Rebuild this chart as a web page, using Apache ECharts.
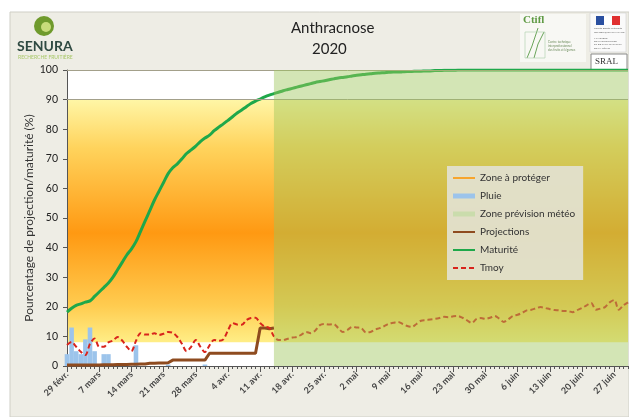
<!DOCTYPE html>
<html>
<head>
<meta charset="utf-8">
<script src="https://cdn.jsdelivr.net/npm/echarts/dist/echarts.min.js"></script>
<style>
html,body{margin:0;padding:0;background:#fff;}
#main{width:629px;height:417px;}
</style>
</head>
<body>
<div id="main"></div>
<script>
// jours du 29 févr. au 30 juin 2020
var mois = [['févr.', 29, 29], ['mars', 1, 31], ['avr.', 1, 30], ['mai', 1, 31], ['juin', 1, 30]];
var jours = [];
mois.forEach(function (m) {
    for (var d = m[1]; d <= m[2]; d++) jours.push(d + ' ' + m[0]);
});
var debutPrevision = '14 avr.';

// pluie (mm), seulement les premiers jours
var pluie = [4, 13, 5, 4, 9, 13, 5, 0, 4, 4, 0, 0, 0, 0, 0, 7, 0, 0, 0, 0, 0, 0, 0.5, 0, 0, 0, 0, 0, 0, 0, 0.5];

// projections (%) jusqu'au début de la prévision
var projections = [0.3, 0.3, 0.3, 0.3, 0.3, 0.3, 0.3, 0.3, 0.4, 0.4,
    0.4, 0.5, 0.5, 0.5, 0.6, 0.6, 0.7, 0.7, 0.9, 0.9,
    1, 1, 1.1, 2, 2, 2, 2, 2, 2, 2,
    2, 4.3, 4.3, 4.3, 4.3, 4.3, 4.3, 4.3, 4.3, 4.3,
    4.3, 4.3, 12.8, 12.8, 12.6, 12.8];

// maturité (%)
var maturite = [18.2, 19.5, 20.5, 21, 21.6, 22, 23.5, 25, 26.5, 28,
    30, 32.5, 35, 37.5, 39.5, 42, 45.5, 49, 52.5, 56,
    59, 62, 65, 67, 68.3, 70, 71.8, 73, 74.3, 75.8,
    77, 78, 79.5, 80.7, 81.8, 83, 84.2, 85.5, 86.5, 87.6,
    88.7, 89.5, 90.2, 90.9, 91.5, 92, 92.5, 93, 93.4, 93.8,
    94.2, 94.6, 95, 95.4, 95.8, 96.1, 96.4, 96.7, 97, 97.3,
    97.5, 97.7, 98, 98.2, 98.4, 98.6, 98.7, 98.9, 99, 99.1,
    99.2, 99.3, 99.3, 99.4, 99.5, 99.5, 99.6, 99.6, 99.7, 99.7,
    99.8, 99.8, 99.9, 99.9, 99.9, 100, 100, 100, 100, 100,
    100, 100, 100, 100, 100, 100, 100, 100, 100, 100,
    100, 100, 100, 100, 100, 100, 100, 100, 100, 100,
    100, 100, 100, 100, 100, 100, 100, 100, 100, 100,
    100, 100, 100];

// température moyenne (°C)
var tmoy = [7.1, 8.1, 6.5, 4.8, 3.7, 7.5, 9.3, 6.5, 6.5, 8,
    8.6, 9.8, 8.6, 6.5, 5, 8.5, 11.1, 10.6, 10.6, 11.1,
    10.5, 10.9, 11.5, 11.2, 9.8, 7.5, 5, 6.5, 8.8, 6.5,
    4.7, 7, 8.8, 8.5, 9, 12, 14.5, 14, 13.9, 15.5,
    16.2, 16.3, 14.5, 13.3, 12.9, 10, 8.8, 8.8, 9.2, 9.6,
    9.8, 10.6, 11.5, 11.1, 12, 13.8, 14.2, 14, 14.2, 12.8,
    11.5, 12.2, 13.2, 13, 12.8, 11.4, 11.5, 12.3, 12.8, 13.5,
    14.3, 14.6, 14.9, 14.2, 13.5, 13.2, 14.2, 15.3, 15.5, 15.7,
    15.9, 16.2, 16.6, 16.5, 16.8, 16.9, 16.3, 15.4, 14.5, 15.8,
    16.2, 15.9, 16.3, 16.9, 16, 14.9, 15.8, 16.9, 17.3, 18,
    18.8, 19, 19.5, 19.9, 19.6, 19.2, 18.9, 18.8, 18.6, 18.5,
    18.2, 18.9, 19.6, 20.5, 21.3, 19, 19.4, 19.9, 21.5, 22.3,
    19, 20.5, 21.5];

var police = 'Lato, "Open Sans", sans-serif';
var myChart = echarts.init(document.getElementById('main'));

var sansSymbole = { opacity: 0 }; // cache le rond des lignes dans la légende

var option = {
    backgroundColor: '#fff',
    textStyle: { fontFamily: police },
    grid: {
        left: 67, right: 1, top: 70, bottom: 51,
        show: true, backgroundColor: '#fff', borderWidth: 0
    },
    graphic: [
        { type: 'rect', z: -10, shape: { x: 10, y: 12, width: 619, height: 405 },
          style: { fill: '#eeede5', stroke: '#cfcfc6', lineWidth: 1 } },
        // logo SENURA
        { type: 'circle', shape: { cx: 44, cy: 26, r: 10 }, style: { fill: '#6f9a2c' } },
        { type: 'circle', shape: { cx: 46, cy: 27, r: 5 }, style: { fill: '#c8dc7a' } },
        { type: 'text', left: 17, top: 39, style: { text: 'SENURA', fill: '#2f4a42', font: 'bold 14px ' + police } },
        { type: 'text', left: 18, top: 55, style: { text: 'RECHERCHE FRUITIÈRE', fill: '#a8c86a', font: '5px ' + police } },
        // titre
        { type: 'text', left: 291, top: 21, style: { text: 'Anthracnose', fill: '#222', font: '15px ' + police } },
        { type: 'text', left: 312, top: 42, style: { text: '2020', fill: '#222', font: '15px ' + police } },
        // logo Ctifl
        { type: 'rect', shape: { x: 520, y: 14, width: 66, height: 48 }, style: { fill: '#f8f8f4' } },
        { type: 'text', left: 523, top: 15, style: { text: 'Ctifl', fill: '#5f9a44', font: 'bold 11px "Liberation Serif", serif' } },
        { type: 'polyline', shape: { points: [[527, 58], [532, 46], [536, 34], [538, 28]] }, style: { stroke: '#6aa55a', fill: null, lineWidth: 1 } },
        { type: 'polyline', shape: { points: [[534, 58], [538, 44], [544, 32]] }, style: { stroke: '#6aa55a', fill: null, lineWidth: 1 } },
        { type: 'rect', shape: { x: 525, y: 32, width: 20, height: 26 }, style: { fill: null, stroke: '#a8cfa8', lineWidth: 0.6 } },
        { type: 'text', left: 548, top: 40, style: { text: 'Centre technique\ninterprofessionnel\ndes fruits et légumes', fill: '#6a8a5a', font: '3px ' + police, lineHeight: 4 } },
        // logo ministère
        { type: 'rect', shape: { x: 590, y: 13, width: 36, height: 39 }, style: { fill: '#fafafa', stroke: '#d0d0d0', lineWidth: 0.6 } },
        { type: 'rect', shape: { x: 596, y: 16, width: 8, height: 9 }, style: { fill: '#2a4fa0' } },
        { type: 'rect', shape: { x: 604, y: 16, width: 8, height: 9 }, style: { fill: '#ffffff' } },
        { type: 'rect', shape: { x: 612, y: 16, width: 8, height: 9 }, style: { fill: '#e03030' } },
        { type: 'text', left: 594, top: 27, style: { text: 'Liberté Égalité Fraternité\nRÉPUBLIQUE FRANÇAISE\n\nMINISTÈRE\nDE L\'AGRICULTURE\nET DE L\'ALIMENTATION\nDE LA PÊCHE', fill: '#666', font: '2.6px ' + police, lineHeight: 3.2 } },
        { type: 'rect', shape: { x: 591, y: 54, width: 36, height: 16 }, style: { fill: '#fff', stroke: '#8a8a8a', lineWidth: 1 } },
        { type: 'text', left: 595, top: 57, style: { text: 'SRAL', fill: '#333', font: '9px "Liberation Serif", serif' } }
    ],
    legend: {
        orient: 'vertical',
        left: 447, top: 166,
        z: 10,
        padding: [6, 8, 6, 5],
        backgroundColor: 'rgba(226,224,206,0.95)',
        itemWidth: 22, itemHeight: 5, itemGap: 6,
        selectedMode: false,
        textStyle: { fontSize: 10, color: '#333', lineHeight: 12 },
        data: [
            { name: 'Zone à protéger', itemStyle: sansSymbole },
            { name: 'Pluie', icon: 'rect' },
            { name: 'Zone prévision météo', icon: 'rect' },
            { name: 'Projections', itemStyle: sansSymbole },
            { name: 'Maturité', itemStyle: sansSymbole },
            { name: 'Tmoy', itemStyle: sansSymbole }
        ]
    },
    xAxis: [{
        type: 'category',
        data: jours,
        boundaryGap: false,
        axisLine: { lineStyle: { color: '#555', width: 1 } },
        axisTick: { interval: 0, length: 3, lineStyle: { color: '#555' } },
        axisLabel: { interval: 6, rotate: 45, fontSize: 9, fontWeight: 'bold', color: '#444', margin: 7 },
        splitLine: { show: false }
    }, {
        type: 'category',
        data: jours,
        position: 'bottom',
        offset: 0,
        boundaryGap: false,
        axisLine: { show: false },
        axisTick: { interval: 6, length: 6, lineStyle: { color: '#555' } },
        axisLabel: { show: false },
        splitLine: { show: false }
    }],
    yAxis: {
        type: 'value',
        min: 0, max: 100, interval: 10,
        name: 'Pourcentage de projection/maturité (%)',
        nameLocation: 'middle',
        nameGap: 32,
        nameMoveOverlap: false,
        nameTextStyle: { fontSize: 12, color: '#333' },
        axisLine: { show: true, lineStyle: { color: '#555' } },
        axisTick: { show: true, length: 4, lineStyle: { color: '#555' } },
        axisLabel: { fontSize: 10.5, color: '#222', margin: 9 },
        splitLine: { show: false }
    },
    series: [{
        name: 'Zone à protéger',
        type: 'line',
        z: 1,
        data: [],
        symbol: 'none',
        itemStyle: { color: '#f7a52c' },
        lineStyle: { color: '#f7a52c', width: 3 },
        markArea: {
            silent: true,
            z: 0,
            itemStyle: {
                color: new echarts.graphic.LinearGradient(0, 0, 0, 1, [
                    { offset: 0, color: '#fff6a6' },
                    { offset: 0.2, color: '#ffd35c' },
                    { offset: 0.55, color: '#ff9912' },
                    { offset: 0.85, color: '#ffcc50' },
                    { offset: 1, color: '#ffee86' }
                ])
            },
            data: [[{ xAxis: jours[0], yAxis: 8 }, { xAxis: jours[jours.length - 1], yAxis: 90 }]]
        },
        markLine: {
            silent: true,
            symbol: 'none',
            label: { show: false },
            lineStyle: { color: '#a3a08a', width: 1, type: 'solid' },
            data: [{ yAxis: 90 }, { yAxis: 100 }]
        }
    }, {
        name: 'Pluie',
        type: 'bar',
        z: 2,
        data: pluie,
        barWidth: '100%',
        itemStyle: { color: '#9cc4eb' }
    }, {
        name: 'Zone prévision météo',
        type: 'line',
        z: 5,
        data: [],
        symbol: 'none',
        itemStyle: { color: '#cadcac' },
        lineStyle: { color: '#cadcac' },
        markArea: {
            silent: true,
            z: 6,
            itemStyle: { color: 'rgba(158,198,92,0.45)' },
            data: [[{ xAxis: debutPrevision, yAxis: 0 }, { xAxis: jours[jours.length - 1], yAxis: 100 }]]
        }
    }, {
        name: 'Projections',
        type: 'line',
        z: 3,
        data: projections,
        symbol: 'none',
        itemStyle: { color: '#8e4b1f' },
        lineStyle: { color: '#8e4b1f', width: 3 }
    }, {
        name: 'Maturité',
        type: 'line',
        z: 3,
        data: maturite,
        smooth: 0.3,
        symbol: 'none',
        itemStyle: { color: '#1fa84a' },
        lineStyle: { color: '#1fa84a', width: 3 }
    }, {
        name: 'Tmoy',
        type: 'line',
        z: 4,
        data: tmoy,
        smooth: 0.3,
        symbol: 'none',
        itemStyle: { color: '#d8241c' },
        lineStyle: { color: '#d8241c', width: 2, type: [5, 3] }
    }]
};

myChart.setOption(option);
</script>
</body>
</html>
